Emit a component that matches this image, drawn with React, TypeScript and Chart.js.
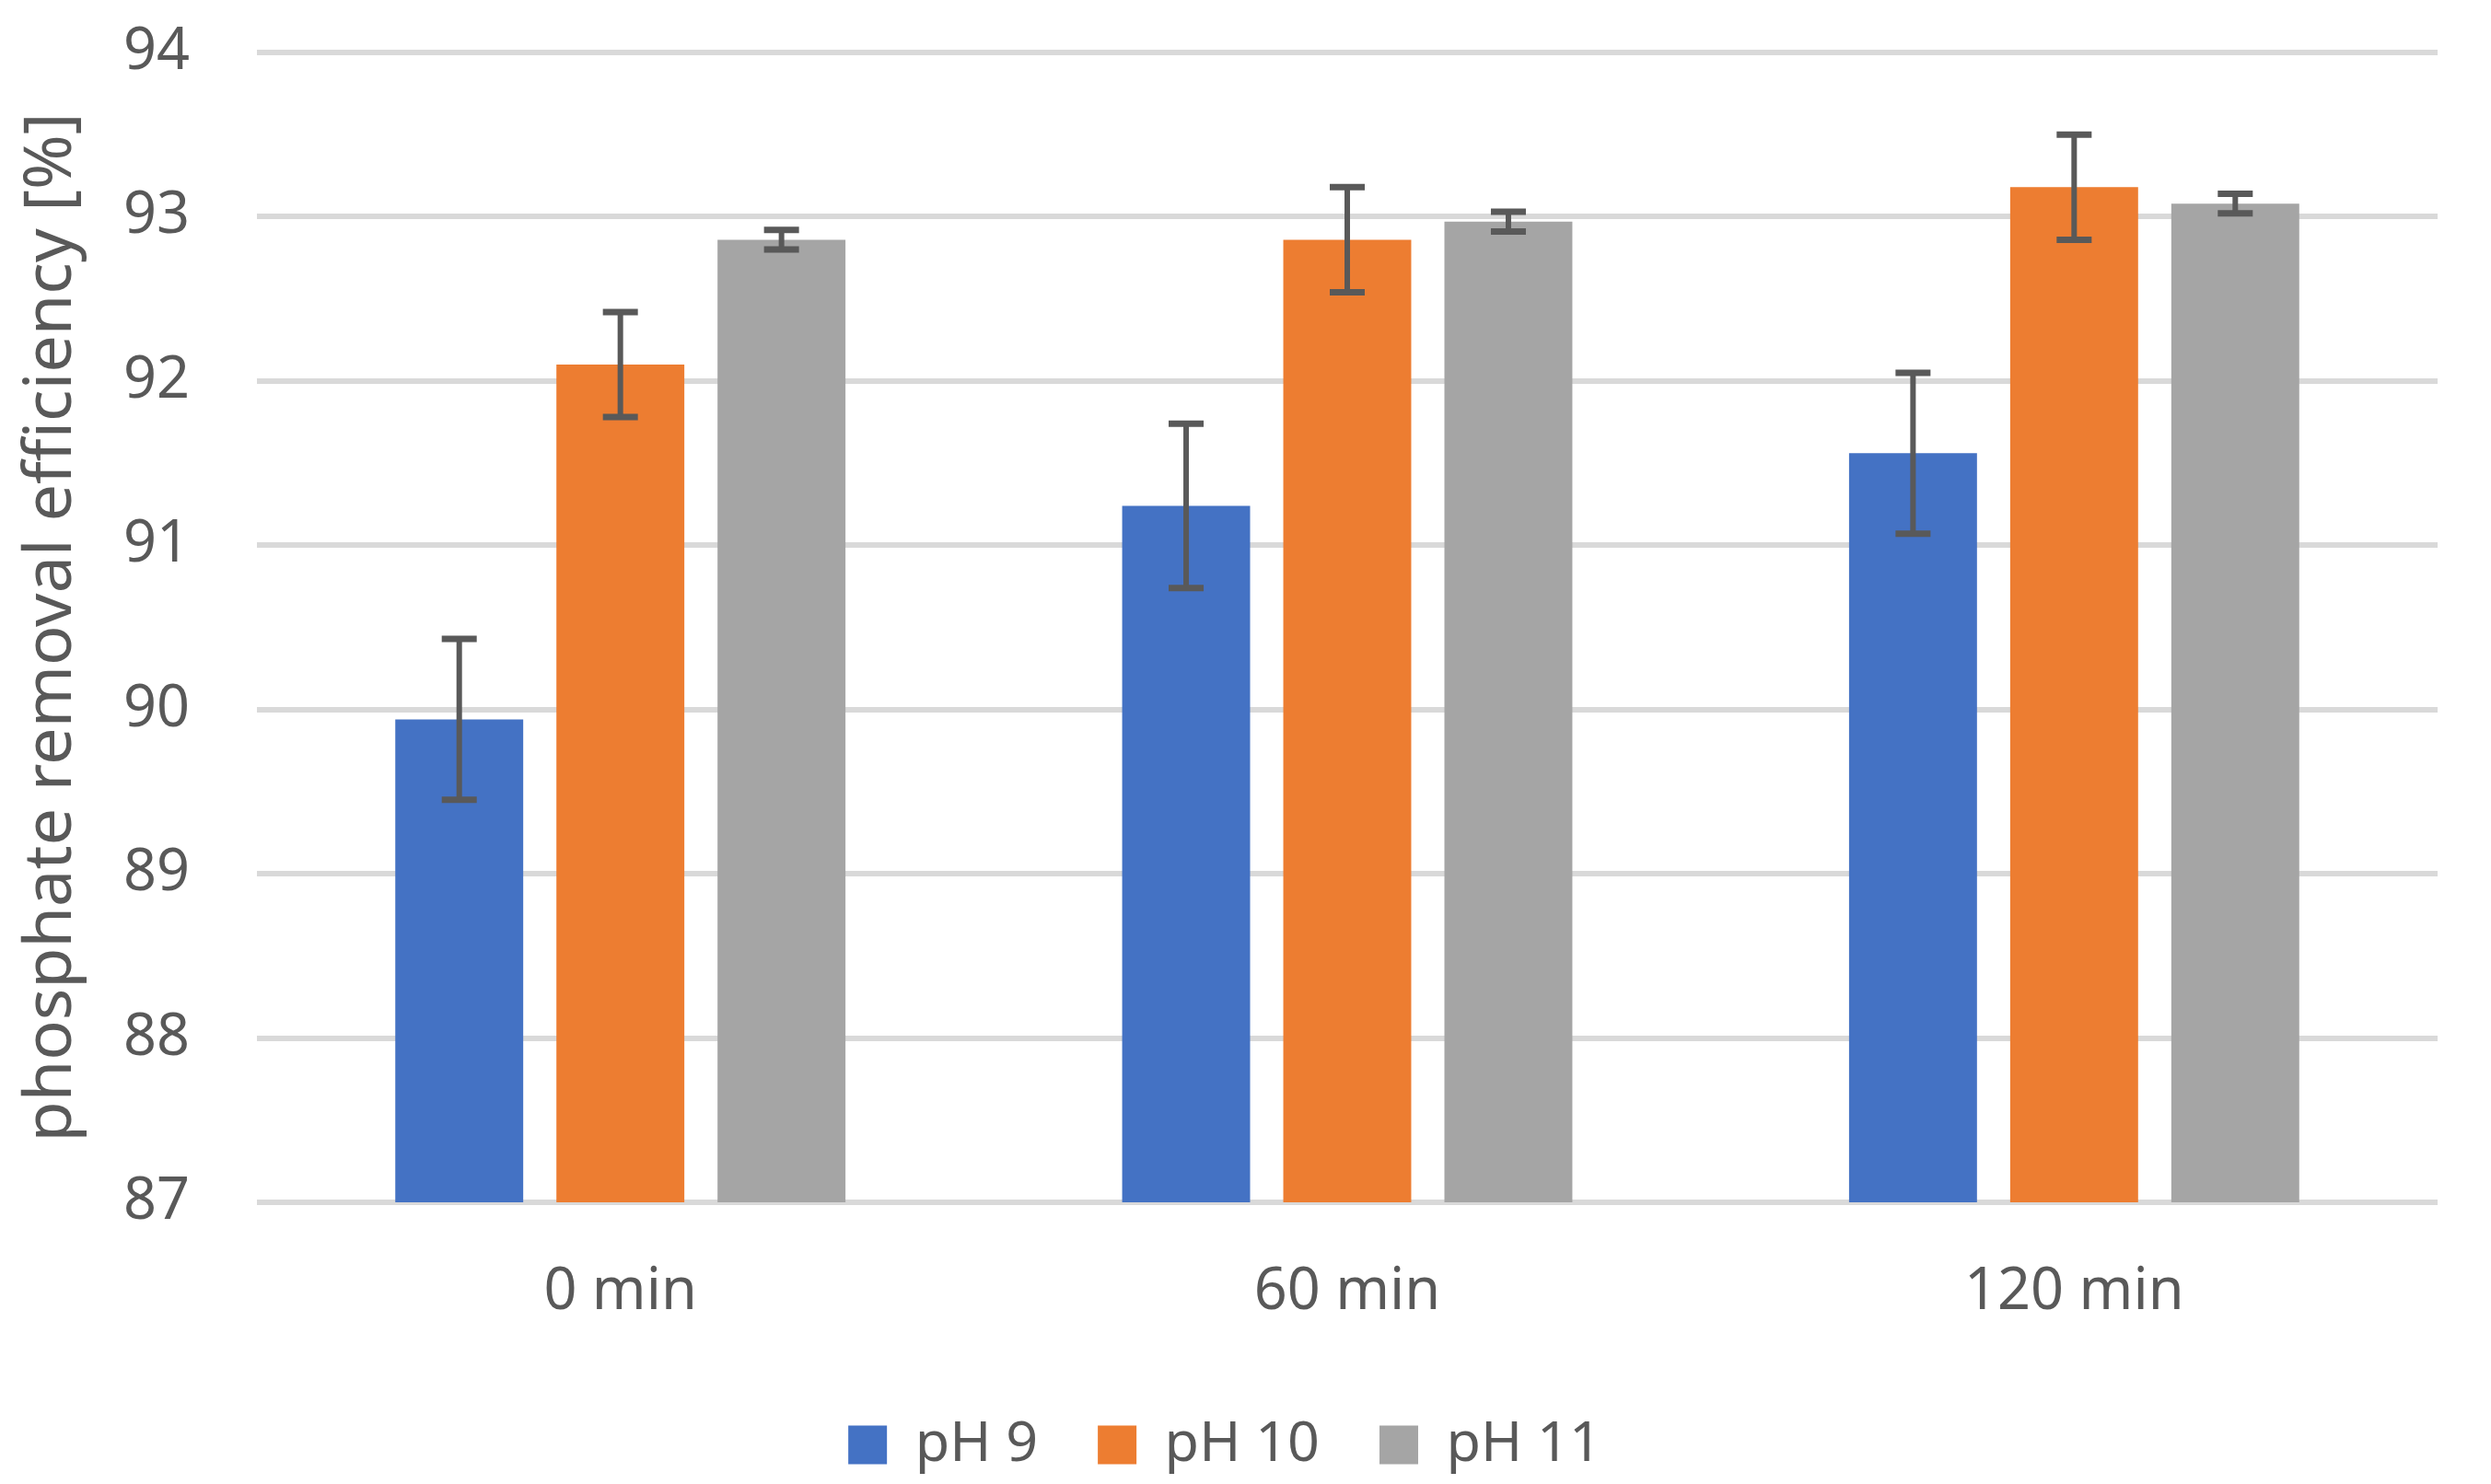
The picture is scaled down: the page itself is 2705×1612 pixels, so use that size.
import React, { useEffect, useRef } from "react";
import { Chart, registerables } from "chart.js";

Chart.register(...registerables);

const categories = ["0 min", "60 min", "120 min"];
const seriesLabels = ["pH 9", "pH 10", "pH 11"];
const ph9Values = [89.94, 91.24, 91.56];
const ph10Values = [92.1, 92.86, 93.18];
const ph11Values = [92.86, 92.97, 93.08];
const ph9Errors = [0.49, 0.5, 0.49];
const ph10Errors = [0.32, 0.32, 0.32];
const ph11Errors = [0.06, 0.06, 0.06];
const yTicks = [87, 88, 89, 90, 91, 92, 93, 94];

const colors = ["#4472C4", "#ED7D31", "#A5A5A5"];
const textColor = "#595959";
const fontFamily = "'Noto Sans', sans-serif";

const errorBarPlugin = {
  id: "errorBars",
  afterDatasetsDraw(chart: any) {
    const ctx = chart.ctx;
    const yScale = chart.scales.y;
    ctx.save();
    ctx.strokeStyle = "#595959";
    chart.data.datasets.forEach((ds: any, i: number) => {
      const meta = chart.getDatasetMeta(i);
      if (meta.hidden) return;
      meta.data.forEach((bar: any, j: number) => {
        const v = ds.data[j];
        const e = ds.errors[j];
        const x = bar.x;
        const yt = yScale.getPixelForValue(v + e);
        const yb = yScale.getPixelForValue(v - e);
        ctx.lineWidth = 6;
        ctx.beginPath();
        ctx.moveTo(x, yt);
        ctx.lineTo(x, yb);
        ctx.stroke();
        ctx.lineWidth = 7;
        ctx.beginPath();
        ctx.moveTo(x - 19, yt);
        ctx.lineTo(x + 19, yt);
        ctx.moveTo(x - 19, yb);
        ctx.lineTo(x + 19, yb);
        ctx.stroke();
      });
    });
    ctx.restore();
  },
};

const legendFitPlugin = {
  id: "legendFit",
  beforeLayout(chart: any) {
    const legend = chart.legend;
    if (legend && !legend.__patched) {
      const orig = legend.fit;
      legend.fit = function () {
        orig.call(this);
        this.height = 138;
      };
      legend.__patched = true;
    }
  },
};

export default function App() {
  const ref = useRef<HTMLCanvasElement | null>(null);
  useEffect(() => {
    document.body.style.margin = "0";
    if (!ref.current) return;
    const chart = new Chart(ref.current, {
      type: "bar",
      data: {
        labels: categories,
        datasets: [
          { label: seriesLabels[0], data: ph9Values, errors: ph9Errors, backgroundColor: colors[0] } as any,
          { label: seriesLabels[1], data: ph10Values, errors: ph10Errors, backgroundColor: colors[1] } as any,
          { label: seriesLabels[2], data: ph11Values, errors: ph11Errors, backgroundColor: colors[2] } as any,
        ],
      },
      options: {
        animation: false,
        responsive: false,
        devicePixelRatio: 1,
        layout: { padding: { left: 13, right: 58, top: 57, bottom: 0 } },
        datasets: {
          bar: { categoryPercentage: 0.665, barPercentage: 0.794 },
        },
        scales: {
          x: {
            grid: { display: false, drawTicks: false },
            border: { display: false },
            ticks: {
              color: textColor,
              font: { family: fontFamily, size: 63 },
              padding: 60,
            },
            afterFit: (axis: any) => {
              axis.height = 168;
            },
          },
          y: {
            min: 87,
            max: 94,
            afterBuildTicks: (axis: any) => {
              axis.ticks = yTicks.map((v) => ({ value: v }));
            },
            grid: {
              color: "#D9D9D9",
              lineWidth: 6,
              drawTicks: true,
              tickLength: 73,
              tickColor: "rgba(0,0,0,0)",
            },
            border: { display: false },
            ticks: {
              color: textColor,
              font: { family: fontFamily, size: 63 },
              padding: 0,
            },
            title: {
              display: true,
              text: "phosphate removal efficiency [%]",
              color: textColor,
              font: { family: fontFamily, size: 72 },
              padding: { top: 0, bottom: 0 },
            },
            afterFit: (axis: any) => {
              axis.width = 266;
            },
          },
        },
        plugins: {
          legend: {
            position: "bottom",
            labels: {
              color: textColor,
              font: { family: fontFamily, size: 61 },
              boxWidth: 42,
              boxHeight: 42,
              padding: 65,
            },
          },
          tooltip: { enabled: false },
        },
      } as any,
      plugins: [errorBarPlugin, legendFitPlugin],
    });
    return () => chart.destroy();
  }, []);
  return (
    <div style={{ width: 2705, height: 1612, background: "#fff" }}>
      <canvas ref={ref} width={2705} height={1612} style={{ display: "block" }} />
    </div>
  );
}
